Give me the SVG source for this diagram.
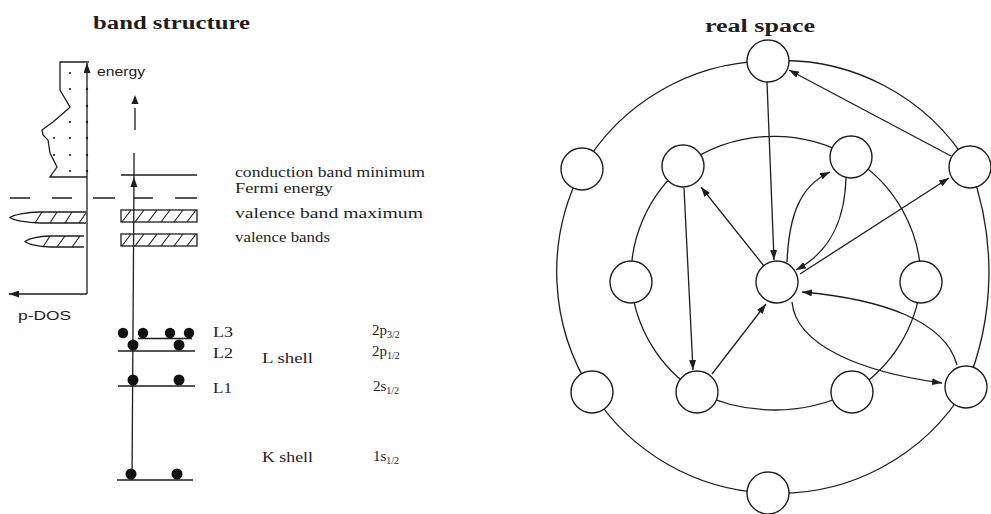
<svg xmlns="http://www.w3.org/2000/svg" width="991" height="514" viewBox="0 0 991 514">
<defs>
<style>
.ln{fill:none;stroke:#1e1e1e;stroke-width:1.3}
.th{fill:none;stroke:#1e1e1e;stroke-width:1.1}
.dash{fill:none;stroke:#1e1e1e;stroke-width:1.3;stroke-dasharray:20 21}
.node{fill:#fff;stroke:#1e1e1e;stroke-width:1.4}
.dot{fill:#1e1e1e}
.el{fill:#111}
.title{font-family:"Liberation Serif",serif;font-weight:bold;font-size:18px;fill:#1e1e1e}
.lab{font-family:"Liberation Serif",serif;font-size:15px;fill:#1e1e1e}
.sans{font-family:"Liberation Sans",Arial,sans-serif;font-size:13px;fill:#1e1e1e}
.sub{font-size:10px}
.ar{fill:none;stroke:#1e1e1e;stroke-width:1.3;marker-end:url(#ah)}
</style>
<marker id="ah" markerWidth="10" markerHeight="7" refX="10" refY="3.5" orient="auto" markerUnits="userSpaceOnUse">
<path d="M0,0 L10,3.5 L0,7 Z" fill="#1e1e1e"/>
</marker>
</defs>
<rect width="991" height="514" fill="#fff"/>

<!-- ===== Left panel: band structure ===== -->
<g id="band-structure">
<text class="title" x="93" y="29" textLength="157" lengthAdjust="spacingAndGlyphs">band structure</text>

<g id="pdos">
<!-- DOS outline -->
<path class="ln" d="M89,62 L60,62 L60,90 L70,107 L68,109 L53,122 L42,130 L43,135 L48,140 L50,153 L57,167 L50,177 L87,177"/>
<g class="dot">
<circle cx="70" cy="73" r="1.1"/><circle cx="70" cy="89" r="1.1"/><circle cx="70" cy="122" r="1.1"/>
<circle cx="70" cy="138" r="1.1"/><circle cx="70" cy="155" r="1.1"/><circle cx="70" cy="171" r="1.1"/>
<circle cx="54" cy="138" r="1.1"/><circle cx="54" cy="155" r="1.1"/>
<circle cx="87" cy="89" r="1.2"/><circle cx="87" cy="106" r="1.2"/><circle cx="87" cy="122" r="1.2"/>
<circle cx="87" cy="138" r="1.2"/><circle cx="87" cy="155" r="1.2"/><circle cx="87" cy="171" r="1.2"/>
</g>
<!-- axes -->
<path class="ar" d="M87,294 L87,63"/>
<path class="ar" d="M87,294 L9,294"/>
<text class="sans" x="97" y="76" font-size="14" textLength="48" lengthAdjust="spacingAndGlyphs">energy</text>
<text class="sans" x="18" y="320" textLength="53" lengthAdjust="spacingAndGlyphs">p-DOS</text>
<!-- hatched DOS peaks -->
<path class="ln" d="M86,212 L40,212 C26,212 13,215 10,217.5 C13,220 26,223 40,223 L86,223"/>
<path class="th" d="M35,223 L42,212 M50,223 L57,212 M65,223 L72,212 M79,223 L86,213"/>
<path class="ln" d="M84,236 L50,236 C38,236 28,239 25,241.5 C28,244 38,247 50,247 L84,247"/>
<path class="th" d="M43,247 L50,236 M57,247 L65,236 M72,247 L80,236"/>
</g>

<g id="fermi-line">
<path class="ln" d="M10,198 L30,198 M52,198 L72,198 M93,198 L115,198 M134,198 L153,198 M175,198 L197,198"/>
</g>

<g id="energy-axis">
<path class="ar" d="M132,480 L134,177"/>
<path class="ln" d="M134,177 L134,153 M135,130 L135,108"/>
<path d="M135,95 L138.5,104 L131.5,104 Z" fill="#1e1e1e"/>
</g>

<g id="cbm">
<path class="ln" d="M121,175 L197,175"/>
<text class="lab" x="235" y="177" textLength="190" lengthAdjust="spacingAndGlyphs">conduction band minimum</text>
</g>
<g id="fermi-label">
<text class="lab" x="235" y="193" textLength="98" lengthAdjust="spacingAndGlyphs">Fermi energy</text>
</g>
<g id="vbm">
<rect class="ln" x="121" y="210" width="76" height="12"/>
<path class="th" d="M122,222 L131,210 M135,222 L144,210 M148,222 L157,210 M161,222 L170,210 M174,222 L183,210 M187,222 L196,210"/>
<text class="lab" x="235" y="218" textLength="188" lengthAdjust="spacingAndGlyphs">valence band maximum</text>
</g>
<g id="vb">
<rect class="ln" x="121" y="234" width="76" height="12"/>
<path class="th" d="M122,246 L131,234 M135,246 L144,234 M148,246 L157,234 M161,246 L170,234 M174,246 L183,234 M187,246 L196,234"/>
<text class="lab" x="235" y="242" textLength="95" lengthAdjust="spacingAndGlyphs">valence bands</text>
</g>

<g id="L3">
<path class="ln" d="M138,338.5 L192,338.5"/>
<circle class="el" cx="123" cy="333" r="5.2"/><circle class="el" cx="143" cy="333" r="5.2"/>
<circle class="el" cx="170" cy="333" r="5.2"/><circle class="el" cx="189" cy="333" r="5.2"/>
<text class="lab" x="213" y="337" textLength="20" lengthAdjust="spacingAndGlyphs">L3</text>
<text class="lab" x="372" y="335">2p<tspan class="sub" dy="3">3/2</tspan></text>
</g>
<g id="L2">
<path class="ln" d="M118,351 L195,351"/>
<circle class="el" cx="133" cy="345" r="5.5"/><circle class="el" cx="179" cy="345" r="5.5"/>
<text class="lab" x="213" y="358" textLength="20" lengthAdjust="spacingAndGlyphs">L2</text>
<text class="lab" x="262" y="363" textLength="51" lengthAdjust="spacingAndGlyphs">L shell</text>
<text class="lab" x="372" y="356">2p<tspan class="sub" dy="3">1/2</tspan></text>
</g>
<g id="L1">
<path class="ln" d="M118,386 L195,386"/>
<circle class="el" cx="133" cy="380" r="5.5"/><circle class="el" cx="179" cy="380" r="5.5"/>
<text class="lab" x="213" y="393" textLength="19" lengthAdjust="spacingAndGlyphs">L1</text>
<text class="lab" x="373" y="391">2s<tspan class="sub" dy="3">1/2</tspan></text>
</g>
<g id="K">
<path class="ln" d="M117,480 L193,480"/>
<circle class="el" cx="131" cy="474" r="5.5"/><circle class="el" cx="177" cy="474" r="5.5"/>
<text class="lab" x="262" y="462" textLength="51" lengthAdjust="spacingAndGlyphs">K shell</text>
<text class="lab" x="373" y="461">1s<tspan class="sub" dy="3">1/2</tspan></text>
</g>
</g>

<!-- ===== Right panel: real space ===== -->
<text class="title" x="705" y="32" textLength="110" lengthAdjust="spacingAndGlyphs">real space</text>

<g id="connectors">
<!-- outer ring -->
<path class="ln" d="M768,61 A218,218 0 0 1 970,167"/>
<path class="ln" d="M970,167 A300,300 0 0 1 966,387"/>
<path class="ln" d="M966,387 A218,218 0 0 1 768,493"/>
<path class="ln" d="M768,493 A218,218 0 0 1 592,392"/>
<path class="ln" d="M592,392 A222,222 0 0 1 582,169"/>
<path class="ln" d="M582,169 A218,218 0 0 1 768,61"/>
<!-- inner ring -->
<path class="ln" d="M631,282 A145,145 0 0 1 683,166"/>
<path class="ln" d="M683,166 A154,154 0 0 1 851,157"/>
<path class="ln" d="M851,157 A145,145 0 0 1 921,282"/>
<path class="ln" d="M921,282 A145,145 0 0 1 852,392"/>
<path class="ln" d="M852,392 A176,176 0 0 1 697,392"/>
<path class="ln" d="M697,392 A145,145 0 0 1 631,282"/>
<!-- directed -->
<path class="ar" d="M767,82 L774,260"/>
<path class="ar" d="M951,156 L789,70"/>
<path class="ar" d="M764,266 L701,187"/>
<path class="ar" d="M787,262 C789,215 800,186 830,172"/>
<path class="ar" d="M846,178 C845,215 834,250 796,270"/>
<path class="ar" d="M800,274 L949,178"/>
<path class="ar" d="M957,365 C945,320 880,299 802,292"/>
<path class="ar" d="M792,302 C796,345 860,372 942,383"/>
<path class="ar" d="M684,188 L693,370"/>
<path class="ar" d="M712,374 L766,304"/>
</g>

<g id="n_top"><circle class="node" cx="768" cy="61" r="21"/></g>
<g id="n_out_left"><circle class="node" cx="582" cy="169" r="21"/></g>
<g id="n_out_right"><circle class="node" cx="970" cy="167" r="21"/></g>
<g id="n_out_lb"><circle class="node" cx="592" cy="392" r="21"/></g>
<g id="n_out_rb"><circle class="node" cx="966" cy="387" r="21"/></g>
<g id="n_bottom"><circle class="node" cx="768" cy="493" r="21"/></g>
<g id="n_in_l"><circle class="node" cx="683" cy="166" r="21"/></g>
<g id="n_in_r"><circle class="node" cx="851" cy="157" r="21"/></g>
<g id="n_in_lm"><circle class="node" cx="631" cy="282" r="21"/></g>
<g id="n_in_rm"><circle class="node" cx="921" cy="282" r="21"/></g>
<g id="n_in_bl"><circle class="node" cx="697" cy="392" r="21"/></g>
<g id="n_in_br"><circle class="node" cx="852" cy="392" r="21"/></g>
<g id="n_center"><circle class="node" cx="777" cy="282" r="21"/></g>
</svg>
